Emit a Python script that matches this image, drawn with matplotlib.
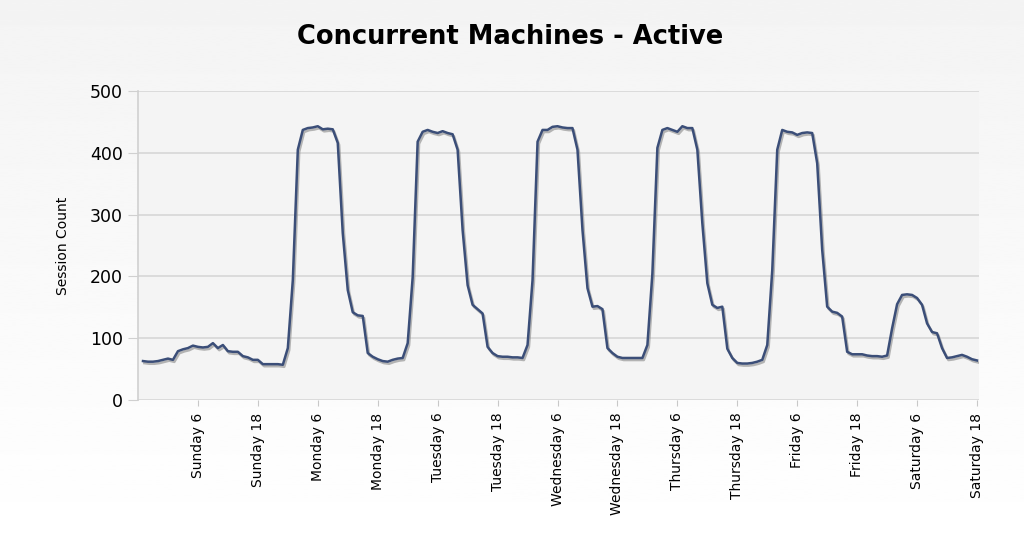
import numpy as np
import matplotlib
matplotlib.use("Agg")
import matplotlib.pyplot as plt
import matplotlib.patheffects as pe

# hourly samples, starting Saturday 19:00 (hour -5 relative to Sunday 0:00)
hours = list(range(-5, 163))
sessions = [
    63, 62, 62, 63, 65, 67, 65, 79, 82, 84, 88, 86, 85, 86, 92, 84, 89, 79, 78, 78,
    71, 69, 65, 65, 58, 58, 58, 58, 57, 84, 194, 405, 437, 440, 441, 443, 438, 439, 438, 416,
    270, 178, 142, 137, 136, 76, 70, 66, 63, 62, 65, 67, 68, 92, 199, 418, 434, 437, 434, 432,
    435, 432, 430, 405, 275, 186, 154, 147, 140, 86, 76, 71, 70, 70, 69, 69, 68, 89, 194, 418,
    437, 437, 442, 443, 441, 440, 440, 405, 275, 181, 151, 152, 147, 84, 76, 70, 68, 68, 68, 68,
    68, 89, 205, 408, 437, 440, 437, 434, 443, 440, 440, 405, 286, 189, 154, 149, 151, 83, 68, 60,
    59, 59, 60, 62, 65, 89, 210, 405, 437, 434, 433, 429, 432, 433, 432, 383, 243, 151, 143, 141,
    135, 78, 74, 74, 74, 72, 71, 71, 70, 72, 116, 155, 170, 171, 170, 165, 154, 124, 110, 108,
    84, 68, 69, 71, 73, 70, 66, 64,
]

days = ["Sunday", "Monday", "Tuesday", "Wednesday", "Thursday", "Friday", "Saturday"]
tick_hours = [d * 24 + h for d in range(7) for h in (6, 18)]
tick_labels = [f"{day} {h}" for day in days for h in (6, 18)]

fig = plt.figure(figsize=(10.24, 5.5), dpi=100)

# soft grey-to-white background
bg = fig.add_axes([0, 0, 1, 1], zorder=-10)
grad = np.linspace(0.955, 1.0, 256).reshape(-1, 1)
bg.imshow(grad, aspect="auto", cmap="gray", vmin=0, vmax=1, extent=[0, 1, 0, 1])
bg.axis("off")

ax = fig.add_axes([138 / 1024, 1 - 400 / 550, (979 - 138) / 1024, (400 - 91) / 550])
ax.set_facecolor("#f4f4f4")

ax.plot(hours, sessions, color="#3b4e78", lw=1.8, solid_joinstyle="round",
        path_effects=[pe.SimpleLineShadow(offset=(1, -1.5), shadow_color="#888888", alpha=0.6),
                      pe.Normal()])

ax.set_xlim(-6, 162.4)
ax.set_ylim(0, 500)
ax.set_yticks([0, 100, 200, 300, 400, 500])
ax.set_xticks(tick_hours)
ax.set_xticklabels(tick_labels, rotation=90, fontsize=10)
ax.tick_params(axis="y", labelsize=12.5, length=7, color="#d0d0d0", pad=4)
ax.tick_params(axis="x", length=4, color="#c8c8c8", pad=5)

ax.grid(axis="y", color="#d6d6d6", lw=1.2)
ax.set_axisbelow(True)
for side in ("top", "right", "bottom"):
    ax.spines[side].set_visible(False)
ax.spines["left"].set_color("#d0d0d0")
ax.spines["left"].set_linewidth(1.2)

ax.set_ylabel("Session Count", fontsize=10, labelpad=14)
fig.suptitle("Concurrent Machines - Active", fontsize=18.5, fontweight="bold",
             x=0.498, y=0.933, va="center")

fig.savefig("out.png", dpi=100)
